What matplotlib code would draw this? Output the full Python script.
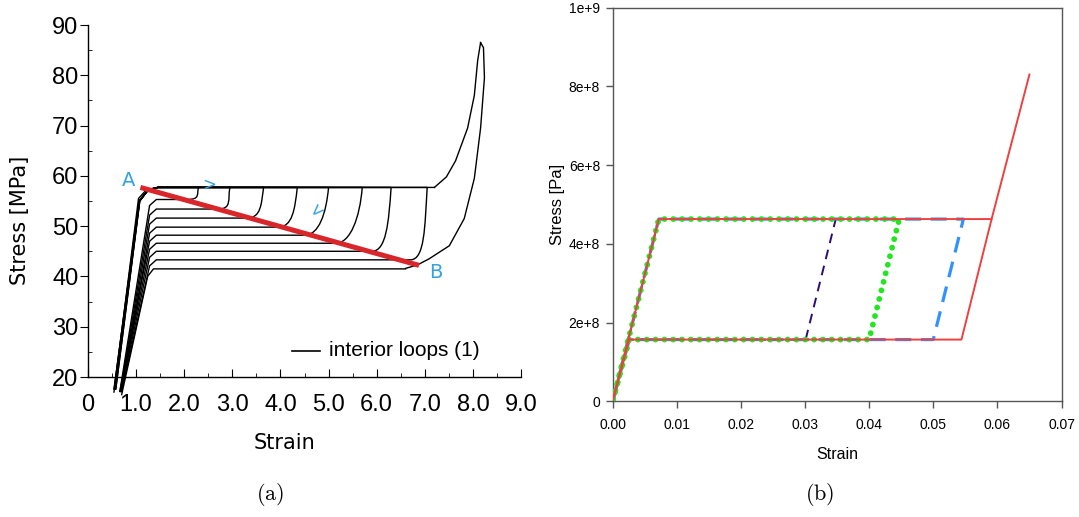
import matplotlib
matplotlib.use("Agg")
import matplotlib.pyplot as plt
from matplotlib.path import Path
from matplotlib.patches import PathPatch

plt.rcParams["mathtext.fontset"] = "cm"

# ---- panel (a): scanned experiment, interior loops ----
upper_stress = 57.7
turn_strain = [2.30, 2.95, 3.65, 4.35, 5.00, 5.70, 6.30, 7.05]
return_strain = [2.05, 2.70, 3.30, 3.95, 4.50, 5.15, 5.90, 6.70]
lower_stress = [55.3, 53.4, 51.6, 49.8, 48.2, 46.6, 45.0, 43.3]
outer_turn = 7.20
outer_lower = 41.5
outer_up_x = [7.20, 7.45, 7.64, 7.89, 8.03, 8.10, 8.16]
outer_up_y = [57.7, 59.8, 63.0, 69.5, 76.0, 83.0, 86.5]
outer_down_x = [8.16, 8.22, 8.24, 8.16, 8.03, 7.82, 7.51, 7.09, 6.85, 6.60]
outer_down_y = [86.5, 85.5, 79.5, 69.5, 59.5, 51.5, 46.1, 43.5, 42.3, 41.6]
line_ab_x = [1.09, 6.88]
line_ab_y = [57.7, 42.2]

# ---- panel (b): simulation ----
sim_upper = 4.63e8
sim_lower = 1.57e8
sim_corner_up = 0.0072
sim_corner_low = 0.0026
sim_drop = 0.0047
purple_turn = 0.0348
green_turn = 0.0447
blue_turn = 0.0547
red_turn = 0.0591
red_end = (0.065, 8.3e8)

fig = plt.figure(figsize=(10.79, 5.17), dpi=100)

# ================= (a) =================
ax1 = fig.add_axes([88 / 1079, 1 - 377 / 517, 433 / 1079, 352 / 517])
ax1.set_xlim(0, 9)
ax1.set_ylim(20, 90)
for s in ["top", "right"]:
    ax1.spines[s].set_visible(False)
ax1.spines["left"].set_linewidth(1.0)
ax1.spines["bottom"].set_linewidth(1.0)

lab_font = "Liberation Sans"
ax1.set_xticks([0, 1, 2, 3, 4, 5, 6, 7, 8, 9])
ax1.set_xticklabels(["0", "1.0", "2.0", "3.0", "4.0", "5.0", "6.0", "7.0", "8.0", "9.0"],
                    family=lab_font, fontsize=17)
ax1.set_yticks([20, 30, 40, 50, 60, 70, 80, 90])
ax1.set_yticklabels(["20", "30", "40", "50", "60", "70", "80", "90"], family=lab_font, fontsize=17)
ax1.set_xticks([x + 0.5 for x in range(9)], minor=True)
ax1.set_yticks([25, 35, 45, 55, 65, 75, 85], minor=True)
ax1.tick_params(axis="x", which="major", direction="in", length=6, pad=12)
ax1.tick_params(axis="x", which="minor", direction="in", length=3)
ax1.tick_params(axis="y", which="major", direction="out", length=6, pad=1)
ax1.tick_params(axis="y", which="minor", direction="in", length=3)

ax1.set_ylabel("Stress [MPa]", fontsize=15)
ax1.yaxis.set_label_coords(-0.135, 0.446)
ax1.set_xlabel("Strain", fontsize=15)
ax1.xaxis.set_label_coords(0.453, -0.16)


def loop_verts(turn, ret, low, off):
    verts = [(0.56 + off, 17.5), (1.07 + off * 0.4, 55.0), (1.25, 57.2), (1.45, upper_stress),
             (turn, upper_stress),
             (turn - 0.05, upper_stress - (upper_stress - low) * 0.55),
             (ret + 0.30, low), (ret, low),
             (1.42, low), (1.28, low - 1.2), (0.68 + off, 17.0)]
    codes = [Path.MOVETO, Path.LINETO, Path.LINETO, Path.LINETO, Path.LINETO,
             Path.CURVE4, Path.CURVE4, Path.CURVE4,
             Path.LINETO, Path.LINETO, Path.LINETO]
    return Path(verts, codes)


for i, (t, r, lo) in enumerate(zip(turn_strain, return_strain, lower_stress)):
    off = 0.012 * (i % 4) - 0.02
    ax1.add_patch(PathPatch(loop_verts(t, r, lo, off), fill=False, lw=1.0,
                            edgecolor="black", clip_on=False))

# outer loop
ax1.plot([0.54, 1.05, 1.22, 1.45, outer_turn], [17.0, 55.5, 57.3, upper_stress, upper_stress],
         color="black", lw=1.0, clip_on=False)
ax1.plot(outer_up_x, outer_up_y, color="black", lw=1.0, clip_on=False)
ax1.plot(outer_down_x, outer_down_y, color="black", lw=1.0, clip_on=False)
ax1.plot([outer_down_x[-1], 1.36, 1.24, 0.70], [outer_lower, outer_lower, 40.0, 16.5],
         color="black", lw=1.0, clip_on=False)

# A-B line and annotations
ax1.plot(line_ab_x, line_ab_y, color="#d9262a", lw=3.6, solid_capstyle="butt", zorder=5)
ax1.text(0.84, 59.1, "A", color="#35a2dc", fontsize=14, ha="center", va="center")
ax1.text(7.22, 40.8, "B", color="#35a2dc", fontsize=14, ha="center", va="center")
ax1.text(2.53, 58.2, ">", color="#35a2dc", fontsize=12, ha="center", va="center")
ax1.text(4.77, 53.1, "<", color="#35a2dc", fontsize=12, ha="center", va="center", rotation=45)

# legend
ax1.plot([4.23, 4.82], [25.2, 25.2], color="black", lw=1.2)
ax1.text(5.0, 25.2, "interior loops (1)", fontsize=15, va="center", ha="left", family=lab_font)

# ================= (b) =================
ax2 = fig.add_axes([612.6 / 1079, 1 - 401.4 / 517, 448.9 / 1079, 393.8 / 517])
ax2.set_xlim(0, 0.07)
ax2.set_ylim(0, 1e9)
for s in ax2.spines.values():
    s.set_color("#555555")
    s.set_linewidth(1.0)

ax2.set_xticks([0, 0.01, 0.02, 0.03, 0.04, 0.05, 0.06, 0.07])
ax2.set_xticklabels(["0.00", "0.01", "0.02", "0.03", "0.04", "0.05", "0.06", "0.07"],
                    family="Liberation Sans", fontsize=10)
ax2.set_yticks([0, 2e8, 4e8, 6e8, 8e8, 1e9])
ax2.set_yticklabels(["0", "2e+8", "4e+8", "6e+8", "8e+8", "1e+9"],
                    family="Liberation Sans", fontsize=10)
ax2.tick_params(axis="x", direction="out", length=5, width=1, color="#555555", pad=7)
ax2.tick_params(axis="y", direction="out", length=5, width=1, color="#555555", pad=4)
ax2.set_xlabel("Strain", family="Liberation Sans", fontsize=11.5, labelpad=11)
ax2.set_ylabel("Stress [Pa]", family="Liberation Sans", fontsize=12, labelpad=3)


def sim_loop(turn):
    xs = [0, sim_corner_up, turn, turn - sim_drop, sim_corner_low, 0]
    ys = [0, sim_upper, sim_upper, sim_lower, sim_lower, 0]
    return xs, ys


px, py = sim_loop(purple_turn)
ax2.plot(px, py, color="#2e0a7a", lw=1.4, linestyle=(0, (5, 3.5)), zorder=2)
bx, by = sim_loop(blue_turn)
ax2.plot(bx, by, color="#1a86ff", lw=2.3, linestyle=(0, (5, 3)), zorder=3, alpha=0.9)
gx, gy = sim_loop(green_turn)
ax2.plot(gx, gy, color="#22e622", lw=4.2, linestyle=(0, (0.01, 1.5)),
         dash_capstyle="round", zorder=4)
rx, ry = sim_loop(red_turn)
ax2.plot(rx, ry, color="#ee4040", lw=1.4, zorder=5)
ax2.plot([red_turn, red_end[0]], [sim_upper, red_end[1]], color="#ee4040", lw=1.4, zorder=5)

# captions
fig.text(270 / 1079, 1 - 495 / 517, r"$(\mathrm{a})$", fontsize=16, ha="center", va="center")
fig.text(820 / 1079, 1 - 495 / 517, r"$(\mathrm{b})$", fontsize=16, ha="center", va="center")

fig.savefig("out.png", dpi=100)
